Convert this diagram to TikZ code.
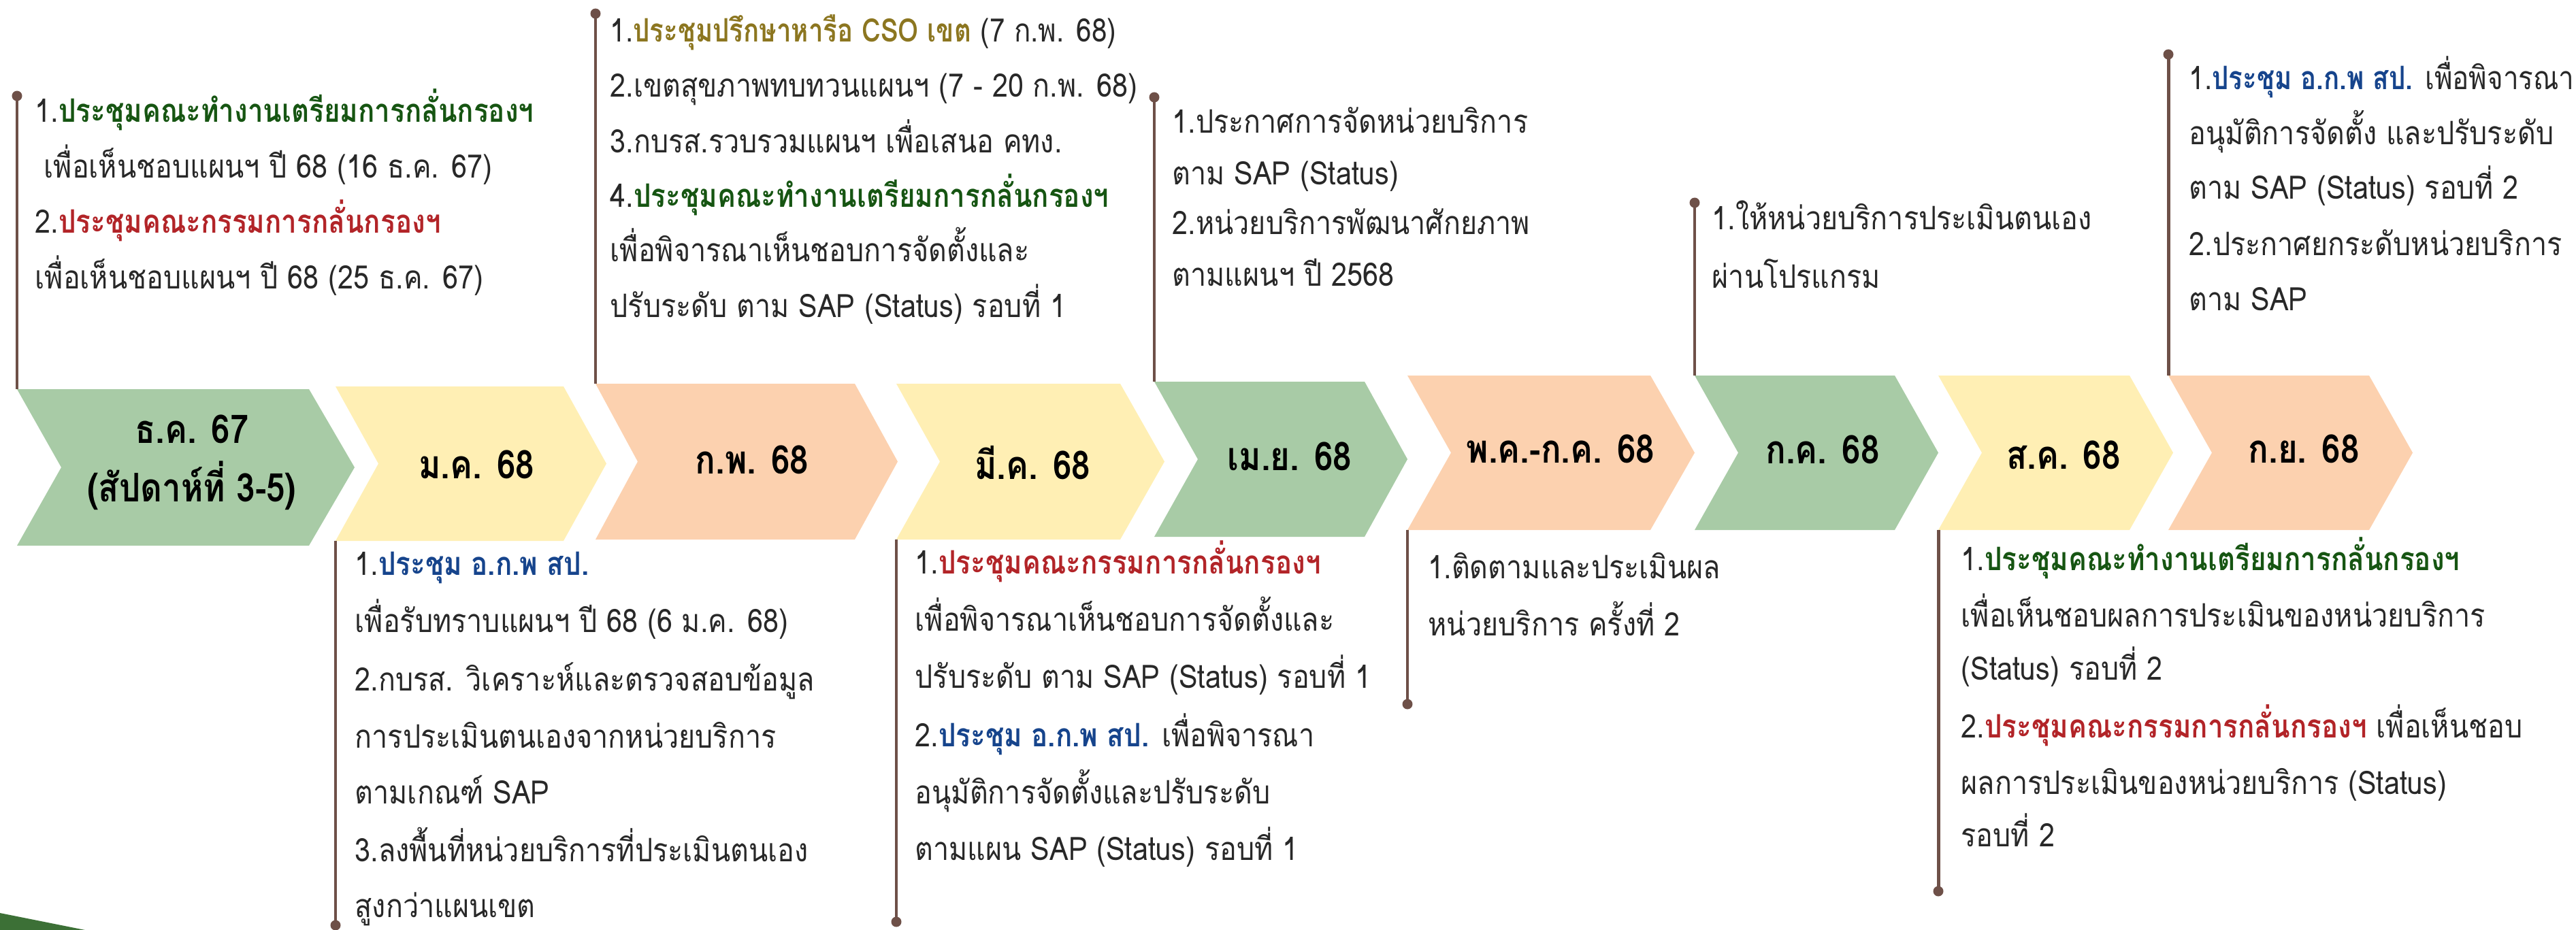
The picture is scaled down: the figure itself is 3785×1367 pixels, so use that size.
\documentclass[tikz,border=0pt]{standalone}
\usepackage{fontspec}
\newfontfamily\thai[Script=Thai, FakeStretch=0.87, BoldFeatures={FakeStretch=0.85}]{Loma}
\newfontfamily\thain[Script=Thai, FakeStretch=0.85, BoldFeatures={FakeStretch=0.81}]{Loma}
\newfontfamily\thaib[Script=Thai, FakeStretch=0.85]{Loma}
\definecolor{cgreen}{RGB}{168,203,166}
\definecolor{cyellow}{RGB}{255,239,180}
\definecolor{cpeach}{RGB}{252,209,175}
\definecolor{lnc}{RGB}{110,80,72}
\definecolor{bodyc}{RGB}{40,40,40}
\definecolor{gtx}{RGB}{22,85,18}
\definecolor{rtx}{RGB}{178,36,40}
\definecolor{btx}{RGB}{22,68,140}
\definecolor{otx}{RGB}{140,118,32}
\definecolor{dkg}{RGB}{60,112,54}
\newcommand\gb[1]{\textcolor{gtx}{\textbf{#1}}}
\newcommand\rb[1]{\textcolor{rtx}{\textbf{#1}}}
\newcommand\bb[1]{\textcolor{btx}{\textbf{#1}}}
\newcommand\ob[1]{\textcolor{otx}{\textbf{#1}}}
\tikzset{
  txt/.style={anchor=base west, inner sep=0pt, text=bodyc, font=\thai\fontsize{13.5}{16}\selectfont},
  txtn/.style={txt, font=\thain\fontsize{13.5}{16}\selectfont},
  mon/.style={inner sep=0pt, text=black, font=\thaib\bfseries\fontsize{16.5}{24.4}\selectfont, align=center},
  dotn/.style={circle, fill=lnc, inner sep=0pt, minimum size=0.15cm},
  conn/.style={draw=lnc, line width=1.4pt},
}
% name, colour, left, notch, right, tip, top, bottom
\newcommand\chev[8]{%
  \coordinate (#1) at (#3,#7);
  \coordinate (#1b) at (#3,#8);
  \fill[#2] (#1) -- (#5,#7) -- (#6,{(#7+#8)/2}) -- (#5,#8) -- (#1b) -- (#4,{(#7+#8)/2}) -- cycle;
}
\newcommand\tline[4]{\node[txt] (#1) at (#2,#3) {#4};}
\newcommand\tlinen[4]{\node[txtn] (#1) at (#2,#3) {#4};}
\begin{document}
\begin{tikzpicture}[x=0.01cm,y=-0.01cm]
\useasboundingbox (0,0) rectangle (3785,1367);
\fill[dkg] (0,1342) -- (125,1367) -- (0,1367) -- cycle;

\chev{k1}{cgreen}{25}{90}{454}{521}{572}{802}
\chev{k2}{cyellow}{493}{556}{828}{891}{568}{795}
\chev{k3}{cpeach}{875}{937}{1256}{1319}{564}{793}
\chev{k4}{cyellow}{1317}{1381}{1646}{1711}{564}{793}
\chev{k5}{cgreen}{1696}{1760}{2005}{2068}{561}{789}
\chev{k6}{cpeach}{2068}{2132}{2425}{2490}{552}{779}
\chev{k7}{cgreen}{2490}{2554}{2784}{2848}{552}{779}
\chev{k8}{cyellow}{2848}{2912}{3129}{3193}{552}{779}
\chev{k9}{cpeach}{3186}{3250}{3481}{3545}{552}{779}

\node[mon] (m1) at (282,680) {ธ.ค. 67\\(สัปดาห์ที่ 3-5)};
\node[mon] (m2) at (700,683) {ม.ค. 68};
\node[mon] (m3) at (1105,676) {ก.พ. 68};
\node[mon] (m4) at (1517,680) {มี.ค. 68};
\node[mon] (m5) at (1895,671) {เม.ย. 68};
\node[mon] (m6) at (2293,660) {พ.ค.-ก.ค. 68};
\node[mon] (m7) at (2678,661) {ก.ค. 68};
\node[mon] (m8) at (3032,669) {ส.ค. 68};
\node[mon] (m9) at (3385,660) {ก.ย. 68};

% connectors
\node[dotn] (pA) at (25,141) {};
\node[dotn] (pB) at (875,20) {};
\node[dotn] (pC) at (1696,143) {};
\node[dotn] (pD) at (2490,298) {};
\node[dotn] (pE) at (3186,80) {};
\node[dotn] (pF) at (493,1360) {};
\node[dotn] (pG) at (1317,1355) {};
\node[dotn] (pH) at (2068,1035) {};
\node[dotn] (pI) at (2848,1310) {};
\draw[conn] (pA.center) -- (k1);
\draw[conn] (pB.center) -- (k3);
\draw[conn] (pC.center) -- (k5);
\draw[conn] (pD.center) -- (k7);
\draw[conn] (pE.center) -- (k9);
\draw[conn] (k2b) -- (pF.center);
\draw[conn] (k4b) -- (pG.center);
\draw[conn] (k6b) -- (pH.center);
\draw[conn] (k8b) -- (pI.center);

% block A
\tline{a1}{51}{180}{1.\gb{ประชุมคณะทำงานเตรียมการกลั่นกรองฯ}}
\tline{a2}{64}{262}{เพื่อเห็นชอบแผนฯ ปี 68 (16 ธ.ค. 67)}
\tline{a3}{51}{343}{2.\rb{ประชุมคณะกรรมการกลั่นกรองฯ}}
\tline{a4}{51}{425}{เพื่อเห็นชอบแผนฯ ปี 68 (25 ธ.ค. 67)}
% block B
\tlinen{b1}{896}{62}{1.\ob{ประชุมปรึกษาหารือ CSO เขต} (7 ก.พ. 68)}
\tline{b2}{896}{143}{2.เขตสุขภาพทบทวนแผนฯ (7 - 20 ก.พ. 68)}
\tline{b3}{896}{225}{3.กบรส.รวบรวมแผนฯ เพื่อเสนอ คทง.}
\tline{b4}{896}{305}{4.\gb{ประชุมคณะทำงานเตรียมการกลั่นกรองฯ}}
\tline{b5}{896}{385}{เพื่อพิจารณาเห็นชอบการจัดตั้งและ}
\tline{b6}{896}{466}{ปรับระดับ ตาม SAP (Status) รอบที่ 1}
% block C
\tline{c1}{1722}{196}{1.ประกาศการจัดหน่วยบริการ}
\tline{c2}{1722}{272}{ตาม SAP (Status)}
\tline{c3}{1722}{345}{2.หน่วยบริการพัฒนาศักยภาพ}
\tline{c4}{1722}{420}{ตามแผนฯ ปี 2568}
% block D
\tline{d1}{2515}{338}{1.ให้หน่วยบริการประเมินตนเอง}
\tline{d2}{2515}{424}{ผ่านโปรแกรม}
% block E
\tlinen{e1}{3216}{132}{1.\bb{ประชุม อ.ก.พ สป.} เพื่อพิจารณา}
\tline{e2}{3216}{213}{อนุมัติการจัดตั้ง และปรับระดับ}
\tline{e3}{3216}{293}{ตาม SAP (Status) รอบที่ 2}
\tline{e4}{3216}{376}{2.ประกาศยกระดับหน่วยบริการ}
\tline{e5}{3216}{456}{ตาม SAP}
% block F
\tline{f1}{521}{845}{1.\bb{ประชุม อ.ก.พ สป.}}
\tline{f2}{521}{929}{เพื่อรับทราบแผนฯ ปี 68 (6 ม.ค. 68)}
\tline{f3}{521}{1015}{2.กบรส. วิเคราะห์และตรวจสอบข้อมูล}
\tline{f4}{521}{1099}{การประเมินตนเองจากหน่วยบริการ}
\tline{f5}{521}{1181}{ตามเกณฑ์ SAP}
\tline{f6}{521}{1266}{3.ลงพื้นที่หน่วยบริการที่ประเมินตนเอง}
\tline{f7}{521}{1348}{สูงกว่าแผนเขต}
% block G
\tline{g1}{1344}{843}{1.\rb{ประชุมคณะกรรมการกลั่นกรองฯ}}
\tline{g2}{1344}{927}{เพื่อพิจารณาเห็นชอบการจัดตั้งและ}
\tline{g3}{1344}{1011}{ปรับระดับ ตาม SAP (Status) รอบที่ 1}
\tline{g4}{1344}{1097}{2.\bb{ประชุม อ.ก.พ สป.} เพื่อพิจารณา}
\tline{g5}{1344}{1181}{อนุมัติการจัดตั้งและปรับระดับ}
\tline{g6}{1344}{1264}{ตามแผน SAP (Status) รอบที่ 1}
% block H
\tline{h1}{2098}{850}{1.ติดตามและประเมินผล}
\tline{h2}{2098}{934}{หน่วยบริการ ครั้งที่ 2}
% block I
\tline{i1}{2881}{838}{1.\gb{ประชุมคณะทำงานเตรียมการกลั่นกรองฯ}}
\tline{i2}{2881}{921}{เพื่อเห็นชอบผลการประเมินของหน่วยบริการ}
\tline{i3}{2881}{999}{(Status) รอบที่ 2}
\tline{i4}{2881}{1084}{2.\rb{ประชุมคณะกรรมการกลั่นกรองฯ} เพื่อเห็นชอบ}
\tline{i5}{2881}{1167}{ผลการประเมินของหน่วยบริการ (Status)}
\tline{i6}{2881}{1244}{รอบที่ 2}
\end{tikzpicture}
\end{document}
